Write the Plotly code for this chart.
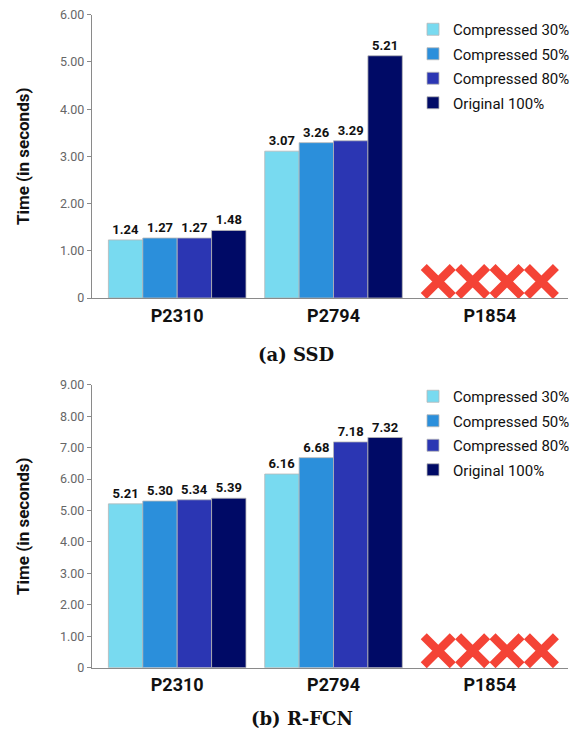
import plotly.graph_objects as go

categories = ["P2310", "P2794", "P1854"]
series_names = ["Compressed 30%", "Compressed 50%", "Compressed 80%", "Original 100%"]
colors = ["#78DAF0", "#2B8FDB", "#2B36B3", "#000A66"]
fail_color = "#F44336"

# (a) SSD: bar heights as drawn, and the printed value labels
ssd_heights = [[1.23, 3.11], [1.27, 3.29], [1.27, 3.33], [1.43, 5.13]]
ssd_labels = [["1.24", "3.07"], ["1.27", "3.26"], ["1.27", "3.29"], ["1.48", "5.21"]]
# (b) R-FCN
rfcn_values = [[5.21, 6.16], [5.30, 6.68], [5.34, 7.18], [5.39, 7.32]]
rfcn_labels = [["5.21", "6.16"], ["5.30", "6.68"], ["5.34", "7.18"], ["5.39", "7.32"]]

failed_category = "P1854"
ssd_fail_level = 0.35
rfcn_fail_level = 0.54

ssd_tickvals = [0, 1, 2, 3, 4, 5, 6]
ssd_ticktext = ["0", "1.00", "2.00", "3.00", "4.00", "5.00", "6.00"]
rfcn_tickvals = [0, 1, 2, 3, 4, 5, 6, 7, 8, 9]
rfcn_ticktext = ["0", "1.00", "2.00", "3.00", "4.00", "5.00", "6.00", "7.00", "8.00", "9.00"]

FONT = "Roboto"
fig = go.Figure()

panels = [
    ("x", "y", "legend", ssd_heights, ssd_labels, ssd_fail_level, "a"),
    ("x2", "y2", "legend2", rfcn_values, rfcn_labels, rfcn_fail_level, "b"),
]
for xa, ya, lg, vals, labs, fail, tag in panels:
    for i, name in enumerate(series_names):
        fig.add_trace(go.Bar(
            x=categories[:2], y=vals[i], name=name, text=labs[i],
            textposition="outside", constraintext="none", cliponaxis=False,
            textfont=dict(family=FONT, size=13, color="#111", weight="bold"),
            marker=dict(color=colors[i], line=dict(color="#B8B8B8", width=0.8)),
            xaxis=xa, yaxis=ya, legend=lg, offsetgroup=f"g{i}",
            legendgroup=f"{tag}{i}",
        ))
    for i in range(len(series_names)):
        fig.add_trace(go.Scatter(
            x=[failed_category], y=[fail], mode="markers", showlegend=False,
            marker=dict(symbol="x-thin", size=29, color=fail_color,
                        line=dict(color=fail_color, width=8.5)),
            xaxis=xa, yaxis=ya, offsetgroup=f"g{i}", cliponaxis=False,
            hoverinfo="skip",
        ))

H = 733.0
W = 576.0
xdom = [92 / W, 568 / W]
xcommon = dict(
    type="category", categoryorder="array", categoryarray=categories,
    range=[-0.545, 2.5], domain=xdom, showline=True, linecolor="#8A8A8A",
    linewidth=1.2, ticks="", showgrid=False, zeroline=False,
    tickfont=dict(family=FONT, size=18, color="#111", weight="bold"),
    ticklabelstandoff=1,
)
ycommon = dict(
    showline=True, linecolor="#8A8A8A", linewidth=1.2, ticks="outside",
    ticklen=4, tickcolor="#8A8A8A", showgrid=False, zeroline=False,
    tickfont=dict(family=FONT, size=12.5, color="#666"),
    title=dict(text="Time (in seconds)", standoff=26,
               font=dict(family=FONT, size=17, color="#111", weight="bold")),
)
legend_common = dict(
    xanchor="left", yanchor="top", bgcolor="rgba(0,0,0,0)",
    font=dict(family=FONT, size=15, color="#111"),
    tracegroupgap=2, traceorder="grouped",
)
fig.update_layout(
    width=576, height=733,
    margin=dict(l=0, r=0, t=0, b=0, autoexpand=False),
    paper_bgcolor="white", plot_bgcolor="white",
    barmode="group", bargap=0.12, bargroupgap=0,
    scattermode="group", scattergap=0.12,
    xaxis=dict(xcommon, anchor="y"),
    yaxis=dict(ycommon, anchor="x", domain=[1 - 298 / H, 1 - 14.7 / H],
               range=[0, 6], tickvals=ssd_tickvals, ticktext=ssd_ticktext),
    xaxis2=dict(xcommon, anchor="y2"),
    yaxis2=dict(ycommon, anchor="x2", domain=[1 - 667.7 / H, 1 - 384.7 / H],
                range=[0, 9], tickvals=rfcn_tickvals, ticktext=rfcn_ticktext),
    legend=dict(legend_common, x=413 / W, y=1 - 13 / H),
    legend2=dict(legend_common, x=413 / W, y=1 - 380 / H),
    showlegend=True,
    annotations=[
        dict(text="<b>(a) SSD</b>", x=296 / W, y=1 - 354 / H, xref="paper", yref="paper",
             xanchor="center", yanchor="middle", showarrow=False,
             font=dict(family="DejaVu Serif", size=18, color="#111")),
        dict(text="<b>(b) R-FCN</b>", x=302 / W, y=1 - 718 / H, xref="paper", yref="paper",
             xanchor="center", yanchor="middle", showarrow=False,
             font=dict(family="DejaVu Serif", size=18, color="#111")),
    ],
)

fig.write_html("out.html", config={"displayModeBar": False},
               post_script="document.body.style.margin='0px';")
